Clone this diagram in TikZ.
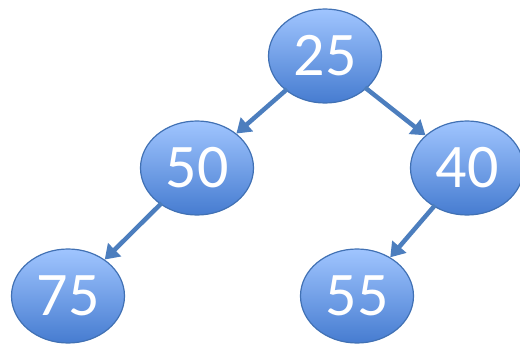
\documentclass[tikz,border=0pt]{standalone}
\usepackage{fontspec}
\setmainfont{Carlito}
\usetikzlibrary{arrows.meta,shapes.geometric}
\definecolor{ballTop}{RGB}{160,197,255}
\definecolor{ballBot}{RGB}{70,124,208}
\definecolor{ballLine}{RGB}{65,113,180}
\definecolor{edgeBlue}{RGB}{76,126,190}
\tikzset{
  ball/.style={ellipse,minimum width=113pt,minimum height=94pt,draw=ballLine,line width=1.2pt,
    top color=ballTop,bottom color=ballBot,text=white,inner sep=0pt,
    font=\fontsize{62}{64}\selectfont},
  link/.style={edgeBlue,line width=4.5pt,-{Triangle[length=14pt,width=18pt]},shorten <=-2pt}
}
\begin{document}
\begin{tikzpicture}[x=1pt,y=-1pt]
 		\useasboundingbox (0,0) rectangle (520,348);
 		\node[ball] (n25) at (325,56) {25};
 		\node[ball] (n50) at (197,168) {50};
 		\node[ball] (n40) at (467,168) {40};
 		\node[ball] (n75) at (68,296) {75};
 		\node[ball] (n55) at (357,296) {55};
 		\draw[link] (n25) -- (n50);
 		\draw[link] (n25) -- (n40);
 		\draw[link] (n50) -- (n75);
 		\draw[link] (n40) -- (n55);
 	\end{tikzpicture}
\end{document}
